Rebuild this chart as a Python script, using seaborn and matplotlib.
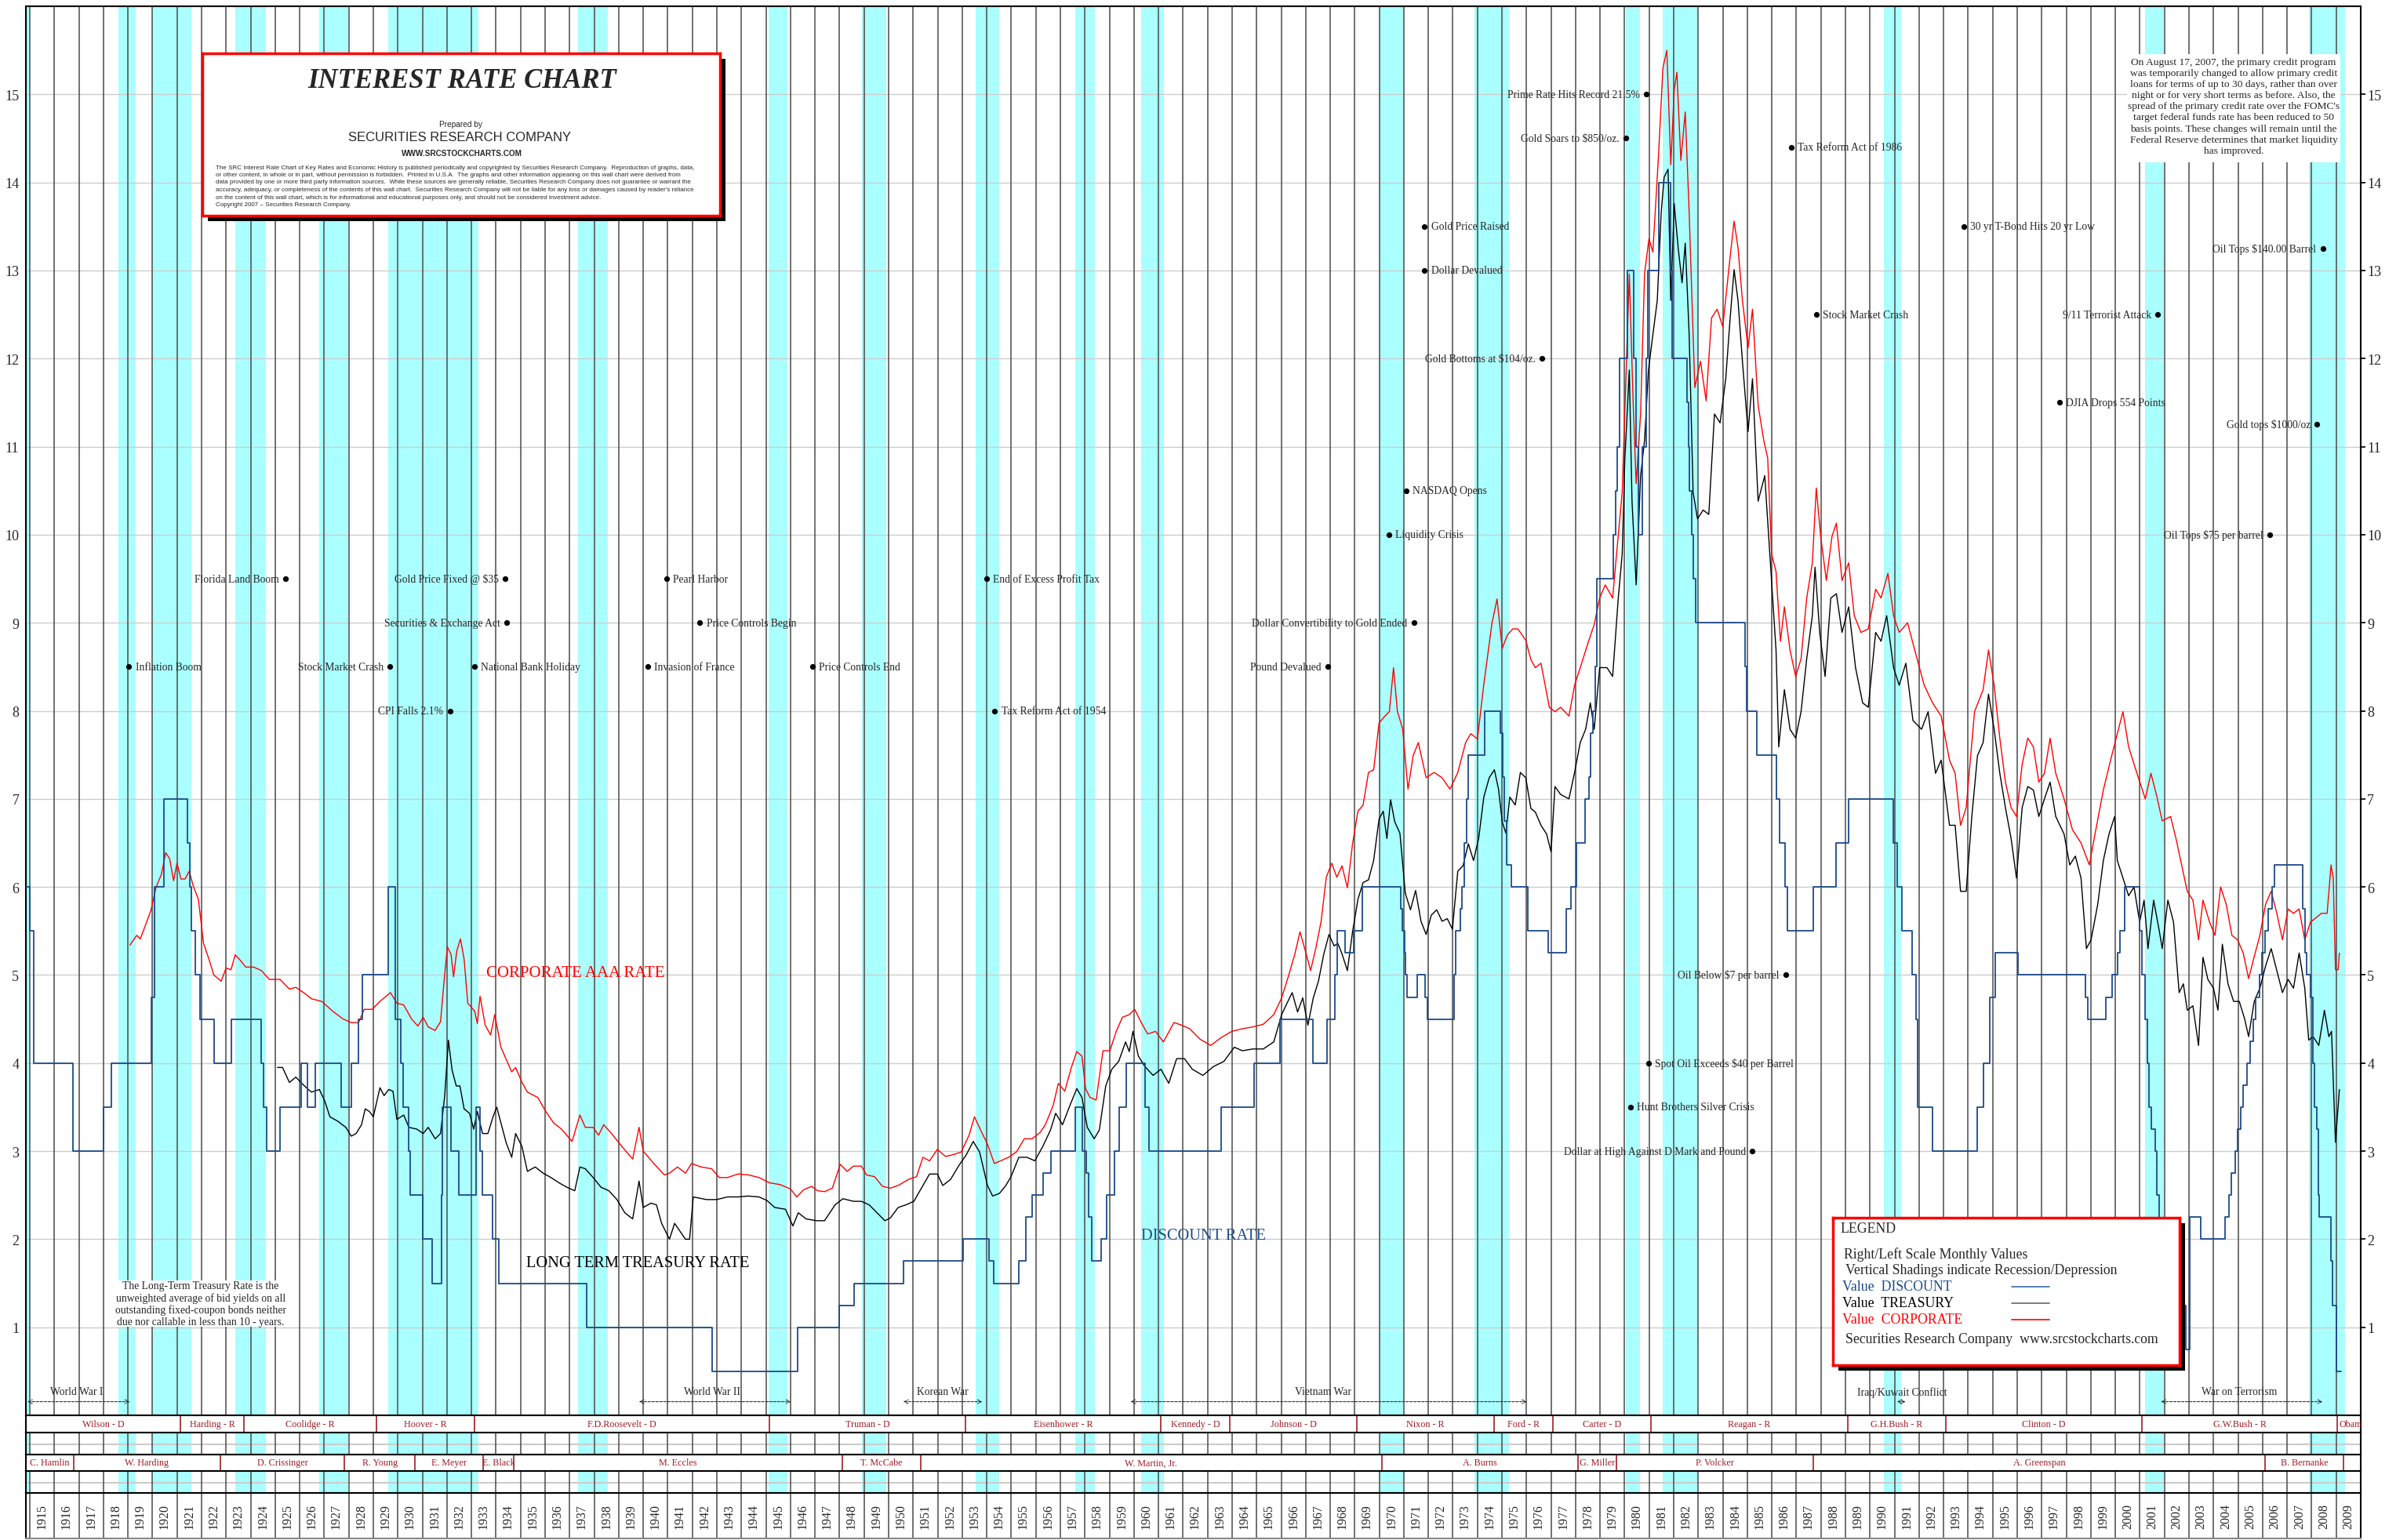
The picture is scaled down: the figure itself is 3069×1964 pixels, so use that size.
import matplotlib
matplotlib.use("Agg")
import matplotlib.pyplot as plt
import seaborn as sns
from matplotlib.patches import Rectangle

# ---------------- data ----------------
disc_year = [1914.83, 1915.0, 1915.15, 1916.76, 1918.0, 1918.33, 1919.94, 1920.08, 1920.45, 1921.42,
             1921.52, 1921.6, 1921.76, 1921.93, 1922.5, 1923.2, 1924.42, 1924.52, 1924.65, 1925.2,
             1926.05, 1926.33, 1926.65, 1927.7, 1928.12, 1928.4, 1928.55, 1929.6, 1929.88, 1930.12,
             1930.2, 1930.45, 1930.5, 1931.0, 1931.4, 1931.78, 1931.82, 1932.15, 1932.5, 1933.2,
             1933.35, 1933.45, 1933.85, 1934.1, 1937.7, 1942.8, 1946.3, 1948.0, 1948.6, 1950.6,
             1953.05, 1954.1, 1954.3, 1955.3, 1955.6, 1955.85, 1956.3, 1956.62, 1957.62, 1957.9,
             1958.05, 1958.15, 1958.28, 1958.65, 1958.88, 1959.2, 1959.4, 1959.7, 1960.45, 1960.62,
             1963.55, 1964.9, 1965.95, 1967.3, 1967.88, 1968.2, 1968.3, 1968.62, 1968.96, 1969.3,
             1970.88, 1970.95, 1971.02, 1971.08, 1971.12, 1971.55, 1971.88, 1971.95, 1973.05, 1973.12,
             1973.3, 1973.38, 1973.45, 1973.55, 1973.62, 1974.3, 1974.95, 1975.02, 1975.1, 1975.2,
             1975.38, 1976.05, 1976.88, 1977.62, 1977.8, 1978.05, 1978.38, 1978.55, 1978.62, 1978.7,
             1978.8, 1978.88, 1979.55, 1979.62, 1979.7, 1979.78, 1980.12, 1980.38, 1980.45, 1980.55,
             1980.72, 1980.88, 1980.95, 1981.38, 1981.88, 1981.95, 1982.55, 1982.6, 1982.65, 1982.72,
             1982.8, 1982.88, 1984.9, 1984.96, 1985.38, 1986.18, 1986.3, 1986.55, 1986.64, 1987.7,
             1988.6, 1989.12, 1990.95, 1991.1, 1991.3, 1991.7, 1991.87, 1991.95, 1992.55, 1994.38,
             1994.62, 1994.88, 1995.1, 1996.04, 1998.78, 1998.88, 1999.62, 1999.88, 2000.1, 2000.2,
             2000.38, 2001.0, 2001.08, 2001.2, 2001.3, 2001.38, 2001.47, 2001.62, 2001.7, 2001.8,
             2001.88, 2001.95, 2002.88, 2003.02, 2003.48, 2004.48, 2004.62, 2004.72, 2004.88, 2004.97,
             2005.1, 2005.22, 2005.38, 2005.48, 2005.62, 2005.72, 2005.88, 2005.97, 2006.1, 2006.22,
             2006.38, 2006.48, 2007.62, 2007.72, 2007.8, 2007.95, 2008.05, 2008.1, 2008.22, 2008.28,
             2008.32, 2008.78, 2008.85, 2009.0, 2009.2]
disc_rate = [6.0, 5.5, 4.0, 3.0, 3.5, 4.0, 4.75, 6.0, 7.0, 6.5,
             6.0, 5.5, 5.0, 4.5, 4.0, 4.5, 4.0, 3.5, 3.0, 3.5,
             4.0, 3.5, 4.0, 3.5, 4.0, 4.5, 5.0, 6.0, 4.5, 4.0,
             3.5, 3.0, 2.5, 2.0, 1.5, 2.5, 3.5, 3.0, 2.5, 3.5,
             3.0, 2.5, 2.0, 1.5, 1.0, 0.5, 1.0, 1.25, 1.5, 1.75,
             2.0, 1.75, 1.5, 1.75, 2.25, 2.5, 2.75, 3.0, 3.5, 3.0,
             2.75, 2.25, 1.75, 2.0, 2.5, 3.0, 3.5, 4.0, 3.5, 3.0,
             3.5, 4.0, 4.5, 4.0, 4.5, 5.0, 5.5, 5.25, 5.5, 6.0,
             5.75, 5.5, 5.25, 5.0, 4.75, 5.0, 4.75, 4.5, 5.0, 5.5,
             5.75, 6.0, 6.5, 7.0, 7.5, 8.0, 7.75, 7.25, 6.75, 6.25,
             6.0, 5.5, 5.25, 5.75, 6.0, 6.5, 7.0, 7.25, 7.75, 8.0,
             8.5, 9.5, 10.0, 10.5, 11.0, 12.0, 13.0, 12.0, 11.0, 10.0,
             11.0, 12.0, 13.0, 14.0, 13.0, 12.0, 11.5, 11.0, 10.5, 10.0,
             9.5, 9.0, 8.5, 8.0, 7.5, 7.0, 6.5, 6.0, 5.5, 6.0,
             6.5, 7.0, 6.5, 6.0, 5.5, 5.0, 4.5, 3.5, 3.0, 3.5,
             4.0, 4.75, 5.25, 5.0, 4.75, 4.5, 4.75, 5.0, 5.25, 5.5,
             6.0, 5.5, 5.0, 4.5, 4.0, 3.5, 3.25, 3.0, 2.5, 2.0,
             1.5, 1.25, 0.75, 2.25, 2.0, 2.25, 2.5, 2.75, 3.0, 3.25,
             3.5, 3.75, 4.0, 4.25, 4.5, 4.75, 5.0, 5.25, 5.5, 5.75,
             6.0, 6.25, 5.75, 5.25, 5.0, 4.75, 4.0, 3.5, 3.25, 2.5,
             2.25, 1.75, 1.25, 0.5, 0.5]

tsy_year = [1925.09, 1925.3, 1925.58, 1925.84, 1926.05, 1926.27, 1926.48, 1926.8, 1927.02, 1927.23,
            1927.55, 1927.88, 1928.1, 1928.3, 1928.52, 1928.67, 1928.84, 1929.0, 1929.27, 1929.44,
            1929.63, 1929.8, 1929.96, 1930.24, 1930.45, 1930.77, 1931.03, 1931.24, 1931.52, 1931.74,
            1931.91, 1932.06, 1932.21, 1932.38, 1932.53, 1932.7, 1932.92, 1933.09, 1933.24, 1933.45,
            1933.67, 1933.88, 1934.03, 1934.2, 1934.42, 1934.64, 1934.8, 1935.06, 1935.28, 1935.6,
            1935.92, 1936.24, 1936.57, 1936.89, 1937.21, 1937.42, 1937.64, 1937.96, 1938.28, 1938.6,
            1938.93, 1939.25, 1939.57, 1939.83, 1940.0, 1940.32, 1940.54, 1940.75, 1941.07, 1941.28,
            1941.72, 1941.89, 1942.04, 1942.58, 1943.0, 1943.43, 1943.86, 1944.29, 1944.72, 1945.04,
            1945.36, 1945.8, 1946.1, 1946.32, 1946.64, 1947.07, 1947.39, 1947.82, 1948.14, 1948.57,
            1948.89, 1949.21, 1949.53, 1949.85, 1950.07, 1950.39, 1950.71, 1951.03, 1951.4, 1951.67,
            1951.99, 1952.21, 1952.53, 1952.85, 1953.17, 1953.45, 1953.71, 1954.03, 1954.24, 1954.52,
            1954.78, 1954.99, 1955.31, 1955.64, 1955.96, 1956.28, 1956.6, 1956.81, 1957.09, 1957.35,
            1957.67, 1957.88, 1958.1, 1958.38, 1958.59, 1958.85, 1959.1, 1959.38, 1959.66, 1959.81,
            1959.96, 1960.18, 1960.45, 1960.78, 1961.1, 1961.42, 1961.74, 1962.06, 1962.38, 1962.81,
            1963.24, 1963.67, 1964.09, 1964.42, 1964.84, 1965.27, 1965.7, 1966.02, 1966.24, 1966.45,
            1966.67, 1966.88, 1967.09, 1967.31, 1967.52, 1967.74, 1967.95, 1968.16, 1968.31, 1968.48,
            1968.7, 1968.91, 1969.13, 1969.34, 1969.56, 1969.77, 1969.99, 1970.16, 1970.31, 1970.46,
            1970.63, 1970.84, 1971.06, 1971.27, 1971.48, 1971.7, 1971.91, 1972.12, 1972.34, 1972.56,
            1972.77, 1972.98, 1973.2, 1973.41, 1973.63, 1973.84, 1974.05, 1974.26, 1974.48, 1974.69,
            1974.86, 1975.01, 1975.16, 1975.32, 1975.54, 1975.75, 1975.97, 1976.18, 1976.36, 1976.59,
            1976.82, 1977.0, 1977.16, 1977.39, 1977.73, 1977.96, 1978.19, 1978.41, 1978.6, 1978.76,
            1978.98, 1979.28, 1979.51, 1979.74, 1979.9, 1980.01, 1980.19, 1980.3, 1980.47, 1980.65,
            1980.81, 1980.97, 1981.15, 1981.33, 1981.49, 1981.61, 1981.77, 1981.88, 1982.02, 1982.18,
            1982.34, 1982.47, 1982.63, 1982.79, 1982.97, 1983.2, 1983.43, 1983.66, 1983.89, 1984.12,
            1984.3, 1984.46, 1984.62, 1984.8, 1985.03, 1985.21, 1985.44, 1985.71, 1985.94, 1986.17,
            1986.28, 1986.51, 1986.74, 1986.97, 1987.19, 1987.42, 1987.65, 1987.76, 1987.95, 1988.17,
            1988.4, 1988.63, 1988.86, 1989.13, 1989.41, 1989.7, 1989.93, 1990.23, 1990.45, 1990.68,
            1990.96, 1991.19, 1991.46, 1991.75, 1992.1, 1992.37, 1992.67, 1992.9, 1993.24, 1993.47,
            1993.69, 1993.92, 1994.15, 1994.38, 1994.61, 1994.83, 1995.06, 1995.29, 1995.52, 1995.75,
            1995.97, 1996.2, 1996.43, 1996.66, 1996.88, 1997.11, 1997.34, 1997.57, 1997.91, 1998.14,
            1998.37, 1998.6, 1998.82, 1999.01, 1999.28, 1999.51, 1999.74, 1999.97, 2000.08, 2000.31,
            2000.54, 2000.76, 2000.99, 2001.17, 2001.33, 2001.56, 2001.79, 2001.91, 2002.14, 2002.37,
            2002.6, 2002.77, 2002.93, 2003.16, 2003.39, 2003.57, 2003.77, 2004.0, 2004.18, 2004.36,
            2004.59, 2004.82, 2005.05, 2005.27, 2005.43, 2005.66, 2005.89, 2006.12, 2006.35, 2006.58,
            2006.81, 2007.04, 2007.26, 2007.49, 2007.72, 2007.88, 2008.06, 2008.29, 2008.52, 2008.7,
            2008.81, 2008.97, 2009.13]
tsy_rate = [3.95, 3.95, 3.78, 3.84, 3.78, 3.72, 3.67, 3.7, 3.57, 3.39,
            3.34, 3.27, 3.17, 3.2, 3.3, 3.48, 3.45, 3.39, 3.72, 3.63,
            3.7, 3.68, 3.36, 3.41, 3.27, 3.25, 3.2, 3.27, 3.14, 3.2,
            3.63, 4.26, 3.92, 3.74, 3.74, 3.48, 3.43, 3.25, 3.45, 3.2,
            3.2, 3.39, 3.5, 3.32, 3.09, 2.93, 3.2, 3.05, 2.77, 2.82,
            2.75, 2.7, 2.64, 2.59, 2.55, 2.82, 2.8, 2.7, 2.59, 2.55,
            2.45, 2.3, 2.23, 2.66, 2.36, 2.41, 2.39, 2.18, 2.0, 2.18,
            2.0, 2.0, 2.48, 2.45, 2.45, 2.48, 2.48, 2.49, 2.48, 2.44,
            2.36, 2.34, 2.15, 2.3, 2.23, 2.21, 2.21, 2.39, 2.46, 2.43,
            2.43, 2.39, 2.3, 2.21, 2.24, 2.36, 2.39, 2.43, 2.61, 2.74,
            2.74, 2.61, 2.68, 2.83, 2.96, 3.11, 2.99, 2.61, 2.49, 2.52,
            2.61, 2.71, 2.93, 2.93, 2.89, 3.05, 3.24, 3.43, 3.3, 3.49,
            3.71, 3.61, 3.27, 3.14, 3.24, 3.74, 3.93, 4.02, 4.24, 4.13,
            4.36, 4.08, 3.96, 3.86, 3.93, 3.77, 4.05, 4.05, 3.93, 3.86,
            3.96, 4.02, 4.18, 4.14, 4.16, 4.16, 4.24, 4.55, 4.68, 4.8,
            4.58, 4.74, 4.43, 4.74, 4.93, 5.24, 5.46, 5.33, 5.36, 5.24,
            5.05, 5.49, 5.86, 6.05, 6.08, 6.3, 6.77, 6.86, 6.55, 6.99,
            6.74, 6.61, 5.93, 5.74, 5.96, 5.61, 5.46, 5.68, 5.74, 5.61,
            5.64, 5.52, 6.18, 6.24, 6.49, 6.3, 6.55, 7.02, 7.24, 7.33,
            7.11, 6.74, 6.61, 7.02, 6.93, 7.3, 7.24, 6.89, 6.85, 6.7,
            6.6, 6.4, 7.14, 7.05, 7.0, 7.3, 7.64, 7.79, 8.09, 7.79,
            8.49, 8.49, 8.39, 9.28, 9.78, 10.87, 11.87, 10.38, 9.43, 10.67,
            11.07, 11.87, 12.27, 12.66, 13.66, 14.06, 14.15, 12.66, 13.76, 13.26,
            12.86, 13.31, 12.27, 10.48, 10.18, 10.28, 10.23, 11.37, 11.27, 11.77,
            12.46, 13.01, 12.66, 11.97, 11.17, 11.77, 10.38, 10.67, 9.68, 8.69,
            7.59, 8.24, 7.79, 7.69, 7.99, 8.59, 9.08, 9.63, 8.89, 8.39,
            9.28, 9.33, 8.89, 9.18, 8.49, 8.09, 8.04, 8.89, 8.79, 9.08,
            8.49, 8.29, 8.54, 7.89, 7.79, 7.99, 7.29, 7.44, 6.7, 6.7,
            5.95, 5.95, 6.8, 7.49, 7.64, 8.19, 7.79, 7.29, 6.9, 6.55,
            6.1, 6.9, 7.14, 7.1, 6.8, 7.0, 7.19, 6.8, 6.6, 6.25,
            6.35, 6.1, 5.3, 5.4, 5.8, 6.3, 6.6, 6.8, 6.3, 6.1,
            5.9, 6.0, 5.6, 5.85, 5.3, 5.85, 5.5, 5.3, 5.85, 5.6,
            4.8, 4.9, 4.6, 4.65, 4.2, 5.2, 4.95, 4.85, 4.6, 5.35,
            4.9, 4.7, 4.7, 4.5, 4.3, 4.7, 4.85, 5.1, 5.3, 5.05,
            4.8, 4.95, 4.85, 5.25, 4.85, 4.26, 4.3, 4.2, 4.6, 4.3,
            4.36, 3.1, 3.7]

corp_year = [1919.08, 1919.36, 1919.5, 1919.72, 1919.93, 1920.15, 1920.36, 1920.54, 1920.7, 1920.86,
             1921.0, 1921.16, 1921.33, 1921.5, 1921.65, 1921.87, 1922.08, 1922.3, 1922.5, 1922.8,
             1923.0, 1923.2, 1923.37, 1923.6, 1923.8, 1924.12, 1924.44, 1924.76, 1925.2, 1925.58,
             1925.84, 1926.16, 1926.48, 1926.9, 1927.34, 1927.77, 1928.1, 1928.4, 1928.63, 1928.95,
             1929.27, 1929.7, 1929.96, 1930.24, 1930.56, 1930.82, 1931.03, 1931.24, 1931.52, 1931.74,
             1931.89, 1932.02, 1932.17, 1932.27, 1932.4, 1932.55, 1932.7, 1932.85, 1933.13, 1933.24,
             1933.35, 1933.56, 1933.78, 1933.95, 1934.2, 1934.64, 1934.8, 1935.06, 1935.28, 1935.7,
             1936.03, 1936.35, 1936.67, 1937.1, 1937.42, 1937.64, 1937.96, 1938.18, 1938.39, 1938.71,
             1939.14, 1939.57, 1939.83, 1940.0, 1940.43, 1940.86, 1941.07, 1941.4, 1941.72, 1941.97,
             1942.36, 1942.79, 1943.1, 1943.43, 1943.86, 1944.29, 1944.72, 1945.15, 1945.58, 1946.0,
             1946.26, 1946.53, 1946.86, 1947.11, 1947.39, 1947.71, 1948.03, 1948.31, 1948.57, 1948.89,
             1949.1, 1949.43, 1949.75, 1950.07, 1950.39, 1950.82, 1951.14, 1951.4, 1951.67, 1951.99,
             1952.32, 1952.64, 1952.96, 1953.28, 1953.5, 1953.75, 1954.03, 1954.31, 1954.57, 1954.89,
             1955.21, 1955.53, 1955.85, 1956.17, 1956.39, 1956.71, 1956.92, 1957.18, 1957.46, 1957.67,
             1957.88, 1958.03, 1958.21, 1958.46, 1958.74, 1959.02, 1959.28, 1959.53, 1959.81, 1960.03,
             1960.3, 1960.56, 1960.88, 1961.2, 1961.63, 1961.95, 1962.27, 1962.7, 1963.13, 1963.56,
             1963.99, 1964.42, 1964.84, 1965.27, 1965.7, 1966.02, 1966.3, 1966.56, 1966.77, 1966.99,
             1967.2, 1967.41, 1967.63, 1967.84, 1968.06, 1968.27, 1968.48, 1968.7, 1968.91, 1969.13,
             1969.34, 1969.56, 1969.77, 1969.99, 1970.2, 1970.41, 1970.58, 1970.74, 1970.95, 1971.17,
             1971.38, 1971.59, 1971.91, 1972.23, 1972.56, 1972.88, 1973.2, 1973.52, 1973.73, 1974.0,
             1974.26, 1974.59, 1974.8, 1975.01, 1975.22, 1975.44, 1975.65, 1975.97, 1976.18, 1976.36,
             1976.59, 1976.93, 1977.16, 1977.39, 1977.73, 1977.96, 1978.19, 1978.53, 1978.76, 1978.98,
             1979.21, 1979.51, 1979.67, 1979.9, 1980.19, 1980.35, 1980.47, 1980.65, 1980.81, 1980.99,
             1981.15, 1981.38, 1981.56, 1981.72, 1981.88, 1982.02, 1982.13, 1982.29, 1982.47, 1982.63,
             1982.86, 1983.09, 1983.32, 1983.54, 1983.77, 1984.0, 1984.3, 1984.46, 1984.62, 1984.8,
             1985.03, 1985.21, 1985.44, 1985.67, 1985.83, 1985.99, 1986.17, 1986.35, 1986.51, 1986.74,
             1986.97, 1987.19, 1987.42, 1987.65, 1987.81, 1987.99, 1988.22, 1988.45, 1988.63, 1988.86,
             1989.13, 1989.36, 1989.63, 1989.93, 1990.23, 1990.45, 1990.73, 1990.96, 1991.19, 1991.53,
             1991.87, 1992.21, 1992.55, 1992.9, 1993.24, 1993.47, 1993.69, 1993.92, 1994.26, 1994.61,
             1994.83, 1995.06, 1995.29, 1995.52, 1995.75, 1995.97, 1996.2, 1996.43, 1996.66, 1996.88,
             1997.11, 1997.34, 1997.57, 1997.91, 1998.25, 1998.6, 1998.94, 1999.17, 1999.51, 1999.85,
             2000.08, 2000.31, 2000.54, 2000.88, 2001.22, 2001.45, 2001.68, 2001.91, 2002.25, 2002.47,
             2002.7, 2002.93, 2003.16, 2003.39, 2003.57, 2003.84, 2004.06, 2004.29, 2004.52, 2004.75,
             2004.98, 2005.21, 2005.43, 2005.66, 2005.89, 2006.12, 2006.35, 2006.58, 2006.81, 2007.04,
             2007.26, 2007.49, 2007.72, 2007.95, 2008.18, 2008.4, 2008.63, 2008.79, 2008.88, 2008.97,
             2009.08, 2009.13]
corp_rate = [5.34, 5.45, 5.41, 5.57, 5.73, 6.0, 6.14, 6.39, 6.32, 6.07,
             6.27, 6.09, 6.09, 6.18, 6.02, 5.86, 5.36, 5.18, 5.0, 4.93,
             5.08, 5.06, 5.23, 5.16, 5.09, 5.09, 5.05, 4.95, 4.95, 4.84,
             4.86, 4.8, 4.73, 4.7, 4.59, 4.5, 4.46, 4.46, 4.61, 4.61,
             4.7, 4.8, 4.68, 4.66, 4.5, 4.42, 4.52, 4.41, 4.37, 4.47,
             4.95, 5.32, 5.23, 4.98, 5.27, 5.41, 5.18, 4.68, 4.59, 4.45,
             4.76, 4.43, 4.32, 4.55, 4.18, 3.9, 3.95, 3.78, 3.67, 3.61,
             3.45, 3.32, 3.25, 3.11, 3.41, 3.27, 3.27, 3.18, 3.3, 3.2,
             3.05, 2.91, 3.27, 3.0, 2.86, 2.73, 2.75, 2.82, 2.75, 2.86,
             2.82, 2.8, 2.7, 2.7, 2.74, 2.73, 2.7, 2.64, 2.62, 2.57,
             2.48, 2.56, 2.6, 2.55, 2.54, 2.58, 2.85, 2.77, 2.83, 2.83,
             2.73, 2.71, 2.6, 2.58, 2.61, 2.68, 2.71, 2.93, 2.89, 3.02,
             2.94, 2.96, 2.99, 3.18, 3.39, 3.24, 3.08, 2.86, 2.89, 2.93,
             2.99, 3.14, 3.14, 3.21, 3.3, 3.52, 3.77, 3.68, 3.96, 4.13,
             4.08, 3.71, 3.61, 3.58, 4.14, 4.14, 4.36, 4.52, 4.55, 4.61,
             4.46, 4.33, 4.36, 4.24, 4.46, 4.43, 4.39, 4.27, 4.2, 4.29,
             4.36, 4.39, 4.41, 4.44, 4.55, 4.74, 4.99, 5.24, 5.49, 5.27,
             5.05, 5.3, 5.61, 6.11, 6.27, 6.11, 6.24, 5.99, 6.49, 6.86,
             6.93, 7.3, 7.33, 7.86, 7.93, 7.99, 8.49, 7.99, 7.8, 7.11,
             7.49, 7.64, 7.24, 7.3, 7.24, 7.11, 7.3, 7.64, 7.74, 7.68,
             8.3, 8.99, 9.27, 8.71, 8.86, 8.93, 8.93, 8.8, 8.58, 8.49,
             8.54, 8.04, 7.99, 8.04, 7.94, 8.29, 8.49, 8.79, 8.98, 9.28,
             9.43, 9.28, 9.78, 10.48, 12.96, 11.47, 10.58, 11.37, 12.96, 13.36,
             13.21, 14.3, 15.3, 15.5, 14.2, 15.05, 15.25, 14.25, 14.8, 13.66,
             11.67, 11.97, 11.52, 12.46, 12.56, 12.36, 13.16, 13.56, 13.26, 12.66,
             12.12, 12.56, 11.47, 11.07, 10.87, 9.78, 9.58, 8.79, 9.18, 8.69,
             8.39, 8.59, 9.28, 9.68, 10.53, 9.98, 9.48, 9.98, 10.13, 9.48,
             9.68, 9.08, 8.89, 8.93, 9.38, 9.28, 9.56, 9.08, 8.89, 9.0,
             8.64, 8.29, 8.09, 7.94, 7.44, 7.29, 6.7, 6.9, 7.99, 8.24,
             8.69, 8.29, 7.69, 7.19, 6.9, 6.8, 7.39, 7.69, 7.59, 7.19,
             7.29, 7.69, 7.29, 7.0, 6.65, 6.5, 6.25, 6.6, 7.1, 7.49,
             7.74, 7.99, 7.59, 7.29, 7.0, 7.29, 7.04, 6.75, 6.8, 6.55,
             6.25, 5.95, 5.85, 5.4, 5.85, 5.6, 5.45, 6.0, 5.8, 5.45,
             5.4, 5.25, 4.96, 5.21, 5.45, 5.8, 5.95, 5.7, 5.4, 5.75,
             5.7, 5.75, 5.4, 5.6, 5.65, 5.7, 5.7, 6.25, 6.1, 5.06,
             5.06, 5.25]

recessions = [(1914.83, 1915.0), (1918.62, 1919.3), (1920.0, 1921.6), (1923.38, 1924.62),
              (1926.78, 1927.98), (1929.6, 1933.27), (1937.35, 1938.55), (1945.1, 1945.87),
              (1948.9, 1949.9), (1953.55, 1954.5), (1957.62, 1958.4), (1960.3, 1961.22),
              (1969.98, 1971.0), (1973.88, 1975.3), (1980.05, 1980.62), (1981.55, 1982.98),
              (1990.55, 1991.28), (2001.2, 2001.98), (2007.9, 2009.35)]

presidents = [("Wilson - D", 1914.83, 1921.15), ("Harding - R", 1921.15, 1923.72),
              ("Coolidge - R", 1923.72, 1929.14), ("Hoover - R", 1929.14, 1933.12),
              ("F.D.Roosevelt - D", 1933.12, 1945.13), ("Truman - D", 1945.13, 1953.14),
              ("Eisenhower - R", 1953.14, 1961.1), ("Kennedy - D", 1961.1, 1963.9),
              ("Johnson - D", 1963.9, 1969.09), ("Nixon - R", 1969.09, 1974.68),
              ("Ford - R", 1974.68, 1977.07), ("Carter - D", 1977.07, 1981.07),
              ("Reagan - R", 1981.07, 1989.09), ("G.H.Bush - R", 1989.09, 1993.1),
              ("Clinton - D", 1993.1, 2001.07), ("G.W.Bush - R", 2001.07, 2009.05)]

chairs = [("C. Hamlin", 1914.83, 1916.79), ("W. Harding", 1916.79, 1922.76),
          ("D. Crissinger", 1922.76, 1927.82), ("R. Young", 1927.82, 1930.7),
          ("E. Meyer", 1930.7, 1933.48), ("E. Black", 1933.48, 1934.73),
          ("M. Eccles", 1934.73, 1948.12), ("T. McCabe", 1948.12, 1951.3),
          ("W. Martin, Jr.", 1951.3, 1970.1), ("A. Burns", 1970.1, 1978.1),
          ("G. Miller", 1978.1, 1979.68), ("P. Volcker", 1979.68, 1987.7),
          ("A. Greenspan", 1987.7, 2006.11), ("B. Bernanke", 2006.11, 2009.3)]

wars = [("World War I", 1914.9, 1919.08, 1916.9), ("World War II", 1939.83, 1946.03, 1942.8),
        ("Korean War", 1950.6, 1953.82, 1952.2), ("Vietnam War", 1959.86, 1976.02, 1967.7),
        ("Iraq/Kuwait Conflict", 1991.1, 1991.45, 1991.3),
        ("War on Terrorism", 2001.85, 2008.45, 2005.05)]

events = [("Inflation Boom", 1919.04, 8.5, "r"), ("Florida Land Boom", 1925.42, 9.5, "l"),
          ("Stock Market Crash", 1929.68, 8.5, "l"), ("Gold Price Fixed @ $35", 1934.37, 9.5, "l"),
          ("Securities & Exchange Act", 1934.43, 9.0, "l"), ("National Bank Holiday", 1933.12, 8.5, "r"),
          ("CPI Falls 2.1%", 1932.12, 8.0, "l"), ("Pearl Harbor", 1940.94, 9.5, "r"),
          ("Price Controls Begin", 1942.31, 9.0, "r"), ("Invasion of France", 1940.19, 8.5, "r"),
          ("Price Controls End", 1946.9, 8.5, "r"), ("End of Excess Profit Tax", 1953.99, 9.5, "r"),
          ("Tax Reform Act of 1954", 1954.33, 8.0, "r"),
          ("Dollar Convertibility to Gold Ended", 1971.42, 9.0, "l"),
          ("Pound Devalued", 1967.9, 8.5, "l"), ("Liquidity Crisis", 1970.4, 10.0, "r"),
          ("NASDAQ Opens", 1971.09, 10.5, "r"), ("Gold Price Raised", 1971.84, 13.5, "r"),
          ("Dollar Devalued", 1971.84, 13.0, "r"), ("Gold Bottoms at $104/oz.", 1976.64, 12.0, "l"),
          ("Prime Rate Hits Record 21.5%", 1980.88, 15.0, "l"),
          ("Gold Soars to $850/oz.", 1980.06, 14.5, "l"), ("Tax Reform Act of 1986", 1986.78, 14.4, "r"),
          ("Stock Market Crash", 1987.81, 12.5, "r"), ("30 yr T-Bond Hits 20 yr Low", 1993.81, 13.5, "r"),
          ("Oil Tops $140.00 Barrel", 2008.45, 13.25, "l"), ("9/11 Terrorist Attack", 2001.72, 12.5, "l"),
          ("DJIA Drops 554 Points", 1997.71, 11.5, "r"), ("Gold tops $1000/oz", 2008.22, 11.25, "l"),
          ("Oil Tops $75 per barrel", 2006.28, 10.0, "l"), ("Oil Below $7 per barrel", 1986.56, 5.0, "l"),
          ("Spot Oil Exceeds $40 per Barrel", 1980.97, 4.0, "r"),
          ("Hunt Brothers Silver Crisis", 1980.24, 3.5, "r"),
          ("Dollar at High Against D Mark and Pound", 1985.21, 3.0, "l")]

years = list(range(1915, 2010))
yticks = list(range(1, 16))

note_lines = ["On August 17, 2007, the primary credit program",
              "was temporarily changed to allow primary credit",
              "loans for terms of up to 30 days, rather than over",
              "night or for very short terms as before. Also, the",
              "spread of the primary credit rate over the FOMC's",
              "target federal funds rate has been reduced to 50",
              "basis points. These changes will remain until the",
              "Federal Reserve determines that market liquidity",
              "has improved."]
ltt_lines = ["The Long-Term Treasury Rate is the",
             "unweighted average of bid yields on all",
             "outstanding fixed-coupon bonds neither",
             "due nor callable in less than 10 - years."]
disclaimer = ["The SRC Interest Rate Chart of Key Rates and Economic History is published periodically and copyrighted by Securities Research Company.  Reproduction of graphs, data,",
              "or other content, in whole or in part, without permission is forbidden.  Printed in U.S.A.  The graphs and other information appearing on this wall chart were derived from",
              "data provided by one or more third party information sources.  While these sources are generally reliable, Securities Research Company does not guarantee or warrant the",
              "accuracy, adequacy, or completeness of the contents of this wall chart.  Securities Research Company will not be liable for any loss or damages caused by reader's reliance",
              "on the content of this wall chart, which is for informational and educational purposes only, and should not be considered investment advice.",
              "Copyright 2007 \u2013 Securities Research Company."]

# ---------------- styling ----------------
sns.set_theme(style="white")
plt.rcParams["font.family"] = ["Liberation Serif", "DejaVu Serif"]

CYAN = "#aaffff"
GRID = "#4a4a4a"
BLUE = "#1b4a8a"
DRED = "#a01c24"

W, H = 3069, 1965
fig = plt.figure(figsize=(W / 100, H / 100), dpi=100)


def box(x0, y0, x1, y1):
    # pixel box (top-left origin) -> figure fraction rect
    return [x0 / W, 1 - y1 / H, (x1 - x0) / W, (y1 - y0) / H]


XL, XR = 32.7, 3010
X0, X1 = 1914.83, 2010.0

# ---------------- main chart ----------------
ax = fig.add_axes(box(XL, 9, XR, 1806), zorder=1)
ax.set_xlim(X0, X1)
ax.set_ylim(0, 16)
for s, e in recessions:
    ax.axvspan(s, e, color=CYAN, lw=0, zorder=0)
for v in yticks:
    ax.axhline(v, color="#cccccc", lw=1.0, zorder=0.5)
for y in years:
    ax.axvline(y, color=GRID, lw=1.1, zorder=1)

sns.lineplot(x=corp_year, y=corp_rate, ax=ax, color="red", lw=1.0,
             estimator=None, sort=False, legend=False, zorder=3)
sns.lineplot(x=tsy_year, y=tsy_rate, ax=ax, color="black", lw=1.0,
             estimator=None, sort=False, legend=False, zorder=3)
sns.lineplot(x=disc_year, y=disc_rate, ax=ax, color=BLUE, lw=1.3,
             estimator=None, sort=False, legend=False, zorder=3,
             drawstyle="steps-post")

ax.set_xticks([])
ax.set_yticks(yticks)
ax.set_yticklabels([str(v) for v in yticks])
ax.set_xlabel("")
ax.set_ylabel("")
ax.tick_params(axis="y", left=False, right=True, labelleft=True, labelright=True,
               labelsize=13, pad=2, length=4, direction="out", color="black")
for sp in ax.spines.values():
    sp.set_color("black")
    sp.set_linewidth(1.5)

for label, x, y, side in events:
    ax.plot(x, y, "o", ms=4.2, color="black", zorder=4)
    off = 6 if side == "r" else -6
    ax.annotate(label, (x, y), xytext=(off, 0), textcoords="offset points",
                ha="left" if side == "r" else "right", va="center", fontsize=9.8, zorder=4)

for label, s, e, c in wars:
    ax.annotate("", xy=(e, 0.155), xytext=(s, 0.155),
                arrowprops=dict(arrowstyle="<->", color="#333333", lw=0.8,
                                linestyle=(0, (3, 1.5)), shrinkA=0, shrinkB=0,
                                mutation_scale=9), zorder=4)
    ax.text(c, 0.27, label, ha="center", va="center", fontsize=9.8, zorder=4)

ax.text(1933.6, 5.03, "CORPORATE AAA RATE", color="red", fontsize=15, va="center", zorder=4)
ax.text(1935.24, 1.73, "LONG TERM TREASURY RATE", color="black", fontsize=14.7, va="center", zorder=4)
ax.text(1960.3, 2.04, "DISCOUNT RATE", color=BLUE, fontsize=14.7, va="center", zorder=4)


def blank(a):
    a.set_xticks([])
    a.set_yticks([])
    a.set_xlabel("")
    a.set_ylabel("")


# ---------------- bottom strips ----------------
def strip(y0, y1):
    a = fig.add_axes(box(XL, y0, XR, y1), zorder=1)
    a.set_xlim(X0, X1)
    a.set_ylim(0, 1)
    blank(a)
    for sp in a.spines.values():
        sp.set_color("black")
        sp.set_linewidth(1.5)
    return a


pres_ax = strip(1806, 1828)
for name, s, e in presidents:
    pres_ax.text((s + e) / 2, 0.5, name, ha="center", va="center", fontsize=8.7, color=DRED)
    pres_ax.axvline(e, ymin=0.05, ymax=0.95, color=DRED, lw=1.2)
pres_ax.text(2009.12, 0.5, "Obama", ha="left", va="center", fontsize=8.7, color=DRED, clip_on=True)

chair_ax = strip(1856, 1877)
for name, s, e in chairs:
    chair_ax.text((s + e) / 2, 0.5, name, ha="center", va="center", fontsize=8.7, color=DRED)
    chair_ax.axvline(e, ymin=0.05, ymax=0.95, color=DRED, lw=1.2)

for y0, y1 in [(1828, 1856), (1877, 1905)]:
    band = strip(y0, y1)
    for s, e in recessions:
        band.axvspan(s, e, color=CYAN, lw=0, zorder=0)
    band.axhline(0.45, color="#cccccc", lw=1.5, zorder=0.5)
    for y in years:
        band.axvline(y, color=GRID, lw=1.1, zorder=1)

year_ax = strip(1905, 1963)
year_ax.spines["bottom"].set_color("#888888")
for y in years:
    year_ax.axvline(y, color=GRID, lw=1.1)
    year_ax.text(y + 0.5, 0.5, str(y), rotation=90, ha="center", va="center", fontsize=11.5)

# ---------------- boxes ----------------
def shadow(x0, y0, x1, y1, d=7):
    fig.add_artist(Rectangle(((x0 + d) / W, 1 - (y1 + d) / H), (x1 - x0) / W, (y1 - y0) / H,
                             transform=fig.transFigure, facecolor="black", edgecolor="none",
                             zorder=2))


def panel(x0, y0, x1, y1, edge=None):
    a = fig.add_axes(box(x0, y0, x1, y1), zorder=3)
    a.set_xlim(x0, x1)
    a.set_ylim(y1, y0)
    blank(a)
    a.set_facecolor("white")
    for sp in a.spines.values():
        if edge is None:
            sp.set_visible(False)
        else:
            sp.set_color(edge)
            sp.set_linewidth(2.5)
    return a


# title box
shadow(258, 69, 918, 276)
tb = panel(258, 69, 918, 276, edge="red")
tb.text(589, 104, "INTEREST RATE CHART", ha="center", va="center", fontsize=25,
        fontweight="bold", fontstyle="italic")
tb.text(588, 159, "Prepared by", ha="center", va="center", fontsize=7.3, family="Liberation Sans")
tb.text(586, 175, "SECURITIES RESEARCH COMPANY", ha="center", va="center", fontsize=12,
        family="Liberation Sans")
tb.text(589, 196, "WWW.SRCSTOCKCHARTS.COM", ha="center", va="center", fontsize=7.2,
        fontweight="bold", family="Liberation Sans")
for i, line in enumerate(disclaimer):
    tb.text(275, 214 + i * 9.5, line, ha="left", va="center", fontsize=5.8, family="Liberation Sans")

# legend box
shadow(2337, 1554, 2779, 1742)
lg = panel(2337, 1554, 2779, 1742, edge="red")
LFS = 12.8
lg.text(2346, 1568, "LEGEND", ha="left", va="center", fontsize=LFS)
lg.text(2351, 1600, "Right/Left Scale Monthly Values", ha="left", va="center", fontsize=LFS)
lg.text(2353, 1621, "Vertical Shadings indicate Recession/Depression", ha="left", va="center", fontsize=LFS)
for txt, col, lcol, yy in [("Value  DISCOUNT", BLUE, "#3a6aa8", 1642),
                           ("Value  TREASURY", "black", "#666666", 1663),
                           ("Value  CORPORATE", "red", "red", 1684)]:
    lg.text(2349, yy, txt, ha="left", va="center", fontsize=LFS, color=col)
    lg.plot([2565, 2613], [yy, yy], color=lcol, lw=1.2)
lg.text(2353, 1709, "Securities Research Company  www.srcstockcharts.com", ha="left",
        va="center", fontsize=LFS)

# primary credit note (top right)
nt = panel(2712, 70, 2984, 208)
for i, line in enumerate(note_lines):
    nt.text(2848, 80 + i * 14.1, line, ha="center", va="center", fontsize=9.7)

# long-term treasury note (bottom left)
lt = panel(143, 1634, 368, 1693)
for i, line in enumerate(ltt_lines):
    lt.text(256, 1641 + i * 15.3, line, ha="center", va="center", fontsize=9.8)

fig.savefig("out.png", dpi=100, facecolor="white")
